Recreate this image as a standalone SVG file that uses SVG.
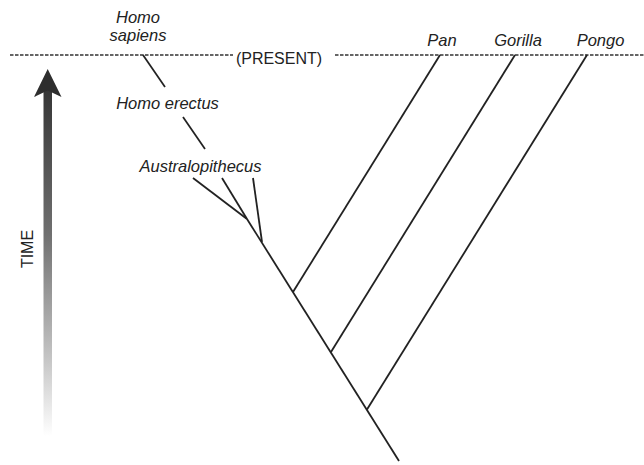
<svg xmlns="http://www.w3.org/2000/svg" width="644" height="465" viewBox="0 0 644 465">
  <style>
    .lbl { font-family: "Liberation Sans", Arial, sans-serif; font-size: 16.5px; fill: #222; text-anchor: middle; }
    .it { font-style: italic; }
    .br { stroke: #222; stroke-width: 1.8; fill: none; stroke-linecap: butt; }
    .dash { stroke: #333; stroke-width: 1.4; stroke-dasharray: 3.5 1.5; fill: none; }
  </style>
  <defs>
    <linearGradient id="timeGrad" gradientUnits="userSpaceOnUse" x1="0" y1="70" x2="0" y2="436">
      <stop offset="0" stop-color="#2e2e2e"/>
      <stop offset="0.45" stop-color="#707070"/>
      <stop offset="0.8" stop-color="#c8c8c8"/>
      <stop offset="1" stop-color="#ffffff"/>
    </linearGradient>
  </defs>
  <rect width="644" height="465" fill="#ffffff"/>

  <g id="present-line">
    <line class="dash" x1="10" y1="55" x2="233" y2="55"/>
    <line class="dash" x1="335" y1="55" x2="644" y2="55"/>
    <text class="lbl" x="279" y="64" style="font-size:16px">(PRESENT)</text>
  </g>

  <g id="time-axis">
    <rect x="43.5" y="88" width="8.5" height="348" fill="url(#timeGrad)"/>
    <polygon points="47.7,69 61.5,97 47.7,90.5 34,97" fill="#2e2e2e"/>
    <text class="lbl" x="33" y="249" style="font-size:16px" transform="rotate(-90 33 249)">TIME</text>
  </g>

  <g id="connectors">
    <line class="br" x1="143" y1="55" x2="165" y2="87"/>
    <line class="br" x1="183" y1="117" x2="205" y2="149"/>
    <line class="br" x1="193" y1="178" x2="247" y2="219"/>
    <line class="br" x1="222" y1="178" x2="247" y2="219"/>
    <line class="br" x1="253" y1="178" x2="262" y2="242"/>
    <line class="br" x1="247" y1="219" x2="399" y2="461"/>
    <line class="br" x1="293" y1="292" x2="440" y2="55"/>
    <line class="br" x1="331" y1="352" x2="515" y2="55"/>
    <line class="br" x1="367" y1="409.5" x2="587" y2="55"/>
  </g>

  <g id="homo-sapiens">
    <text class="lbl it" x="138" y="23">Homo</text>
    <text class="lbl it" x="138" y="41">sapiens</text>
  </g>
  <g id="homo-erectus">
    <text class="lbl it" x="167.5" y="109">Homo erectus</text>
  </g>
  <g id="australopithecus">
    <text class="lbl it" x="200.5" y="172">Australopithecus</text>
  </g>
  <g id="pan">
    <text class="lbl it" x="442" y="46">Pan</text>
  </g>
  <g id="gorilla">
    <text class="lbl it" x="518" y="46">Gorilla</text>
  </g>
  <g id="pongo">
    <text class="lbl it" x="600.5" y="46">Pongo</text>
  </g>
</svg>
